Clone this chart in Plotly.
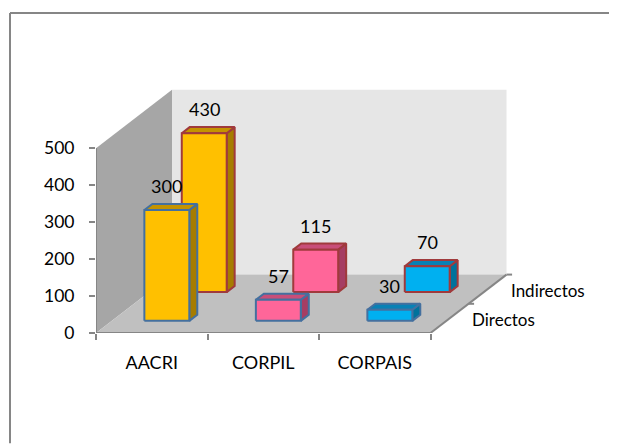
import plotly.graph_objects as go

categories = ['AACRI', 'CORPIL', 'CORPAIS']
series_names = ['Directos', 'Indirectos']
directos = [300, 57, 30]
indirectos = [430, 115, 70]
value_ticks = [0, 100, 200, 300, 400, 500]

FONT = 'Lato'
AXIS_COLOR = '#868686'

# the page body adds 8px around the figure
FIG_W = 609
FIG_H = 436

# chart scale, pixels per category and per value unit
PX_PER_CAT = 111.5
PX_PER_VALUE = 0.37
LEFT = 88
BOTTOM = 110.5
PLOT_W = FIG_W - LEFT
PLOT_H = FIG_H - BOTTOM

# the depth axis is drawn as an oblique offset
DEPTH_DX = 76 / PX_PER_CAT
DEPTH_DY = 58.5 / PX_PER_VALUE

BAR_LEFT, BAR_RIGHT = 0.292, 0.695
BAR_DEPTH = 0.105
SERIES_DEPTH = {'Directos': 0.208, 'Indirectos': 0.70}
OUTLINE = {'Directos': '#44709F', 'Indirectos': '#A03A3C'}
# front, side, top
FILLS = [
    ('#FFC000', '#A67C00', '#C49300'),
    ('#FF6699', '#A63D63', '#C84E79'),
    ('#00B0F0', '#00729C', '#0881B5'),
]


def project(cat, depth, value):
    return cat + depth * DEPTH_DX, value + depth * DEPTH_DY


def polygon(points, fill, line=None, width=2):
    xy = [project(*p) for p in points + points[:1]]
    return go.Scatter(
        x=[p[0] for p in xy], y=[p[1] for p in xy],
        mode='lines', fill='toself', fillcolor=fill,
        line=dict(color=line or fill, width=width),
        hoverinfo='skip', showlegend=False, cliponaxis=False,
    )


def segment(start, end, width=2):
    xy = [project(*start), project(*end)]
    return go.Scatter(
        x=[p[0] for p in xy], y=[p[1] for p in xy],
        mode='lines', line=dict(color=AXIS_COLOR, width=width),
        hoverinfo='skip', showlegend=False, cliponaxis=False,
    )


def bar_traces(cat_idx, value, series):
    x0, x1 = cat_idx + BAR_LEFT, cat_idx + BAR_RIGHT
    d0 = SERIES_DEPTH[series]
    d1 = d0 + BAR_DEPTH
    front, side, top = FILLS[cat_idx]
    line = OUTLINE[series]
    return [
        polygon([(x1, d0, 0), (x1, d1, 0), (x1, d1, value), (x1, d0, value)], side, line),
        polygon([(x0, d0, value), (x1, d0, value), (x1, d1, value), (x0, d1, value)], top, line),
        polygon([(x0, d0, 0), (x1, d0, 0), (x1, d0, value), (x0, d0, value)], front, line),
    ]


def paper_x(px):
    return (px - LEFT) / PLOT_W


def paper_y(px):
    return (PLOT_H - px) / PLOT_H


n_cat = len(categories)
top_value = value_ticks[-1]

fig = go.Figure()

# walls and floor
fig.add_trace(polygon([(0, 0, 0), (0, 1, 0), (0, 1, top_value), (0, 0, top_value)], '#A6A6A6', width=0))
fig.add_trace(polygon([(0, 1, 0), (n_cat, 1, 0), (n_cat, 1, top_value), (0, 1, top_value)], '#E6E6E6', width=0))
fig.add_trace(polygon([(0, 0, 0), (n_cat, 0, 0), (n_cat, 1, 0), (0, 1, 0)], '#C0C0C0', width=0))

# axis lines
fig.add_trace(segment((0, 0, 0), (0, 0, top_value)))
fig.add_trace(segment((0, 0, 0), (n_cat, 0, 0)))
fig.add_trace(segment((n_cat, 0, 0), (n_cat, 1, 0)))
fig.add_trace(segment((n_cat, 0.5, 0), (n_cat + 0.05, 0.5, 0)))
fig.add_trace(segment((n_cat, 1, 0), (n_cat + 0.05, 1, 0)))

# back row first so the front row covers it
for name, values in zip(reversed(series_names), [indirectos, directos]):
    for i, val in enumerate(values):
        for tr in bar_traces(i, val, name):
            fig.add_trace(tr)

annotations = []
for name, values in zip(series_names, [directos, indirectos]):
    for i, val in enumerate(values):
        x, y = project(i + (BAR_LEFT + BAR_RIGHT) / 2, SERIES_DEPTH[name], val)
        annotations.append(dict(x=x, y=y, xref='x', yref='y', text=str(val), showarrow=False,
                                yshift=24, font=dict(family=FONT, size=18, color='#000000')))

# depth axis labels
for name, depth, shift in zip(series_names, [0.5, 1.0], [(35, -16), (41, -16)]):
    x, y = project(n_cat, depth, 0)
    annotations.append(dict(x=x, y=y, xref='x', yref='y', text=name, showarrow=False,
                            xshift=shift[0], yshift=shift[1],
                            font=dict(family=FONT, size=17, color='#000000')))

fig.update_layout(
    width=FIG_W, height=FIG_H,
    margin=dict(l=LEFT, r=0, t=0, b=BOTTOM, pad=0),
    paper_bgcolor='white', plot_bgcolor='rgba(0,0,0,0)',
    showlegend=False,
    annotations=annotations,
    shapes=[
        dict(type='line', xref='paper', yref='paper',
             x0=paper_x(2), x1=paper_x(FIG_W), y0=paper_y(5), y1=paper_y(5),
             line=dict(color=AXIS_COLOR, width=2), layer='below'),
        dict(type='line', xref='paper', yref='paper',
             x0=paper_x(2), x1=paper_x(2), y0=paper_y(5), y1=paper_y(FIG_H),
             line=dict(color=AXIS_COLOR, width=2), layer='below'),
    ],
    xaxis=dict(
        range=[0, PLOT_W / PX_PER_CAT],
        tickvals=[i + 0.5 for i in range(n_cat)], ticktext=categories,
        ticks='', showgrid=False, zeroline=False, showline=False,
        ticklabelstandoff=17,
        tickfont=dict(family=FONT, size=18, color='#000000'),
        minor=dict(tickvals=list(range(n_cat + 1)), ticks='outside', ticklen=6,
                   tickwidth=2, tickcolor=AXIS_COLOR, showgrid=False),
    ),
    yaxis=dict(
        range=[0, PLOT_H / PX_PER_VALUE],
        tickvals=value_ticks, ticks='outside', ticklen=6, tickwidth=2, tickcolor=AXIS_COLOR,
        showgrid=False, zeroline=False, showline=False,
        ticklabelstandoff=11,
        tickfont=dict(family=FONT, size=17.5, color='#000000'),
    ),
)

fig.write_html("out.html")
